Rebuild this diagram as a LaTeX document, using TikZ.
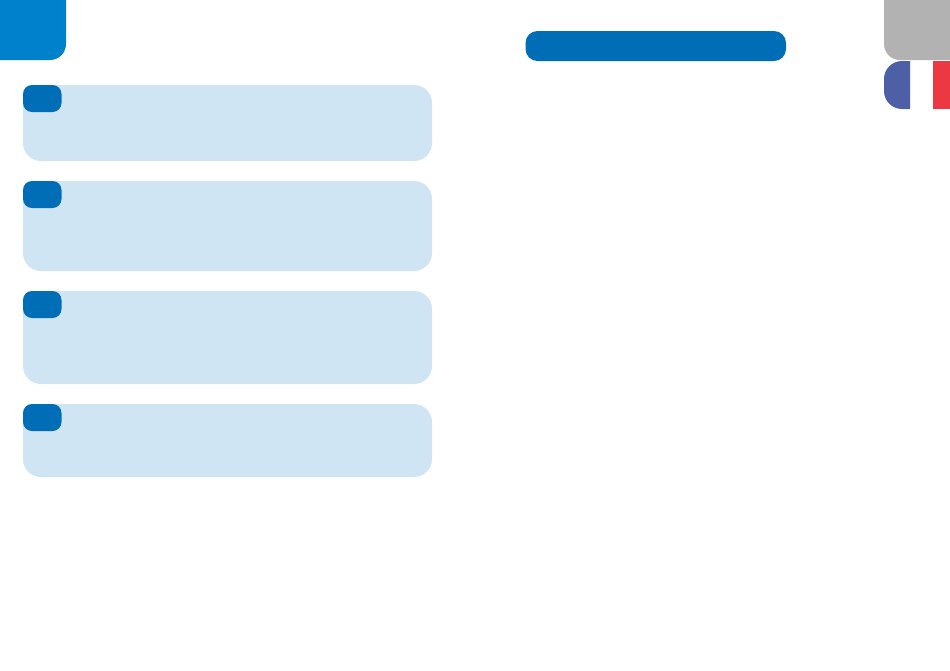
\documentclass[tikz,border=0pt]{standalone}

\definecolor{tabblue}{HTML}{0081CC}
\definecolor{badgeblue}{HTML}{006DB7}
\definecolor{panelblue}{HTML}{D0E5F4}
\definecolor{tabgray}{HTML}{B2B2B2}
\definecolor{flagblue}{HTML}{4D60A5}
\definecolor{flagred}{HTML}{EB3842}

\tikzset{
  panel/.style={fill=panelblue,rounded corners=18pt},
  badge/.style={fill=badgeblue,rounded corners=9pt}
}

\begin{document}
\begin{tikzpicture}[x=1pt,y=-1pt]
   \useasboundingbox [fill=white] (0,0) rectangle (950,670);

   % Corner tabs
   \fill [tabblue] (0,0) -- (66,0) [rounded corners=16pt] -- (66,60) [sharp corners] -- (0,60) -- cycle;
   \fill [tabgray] (950,0) -- (884,0) [rounded corners=16pt] -- (884,60) [sharp corners] -- (950,60) -- cycle;

   % Flag
   \fill [flagblue] (910,61) [rounded corners=18pt] -- (884,61) -- (884,109) [sharp corners] -- (910,109) -- cycle;
   \fill [flagred] (933,61) rectangle (950,109);

   % Title bar
   \fill [badgeblue, rounded corners=12pt] (525.5,31) rectangle (786,61);

   % Panels with their badges
   \foreach \ytop/\ybot in {85/161, 181/271, 291/384, 404/477} {
     \fill [panel] (23,\ytop) rectangle (432,\ybot);
     \fill [badge] (23,\ytop) rectangle (61.5,\ytop+27);
   }
\end{tikzpicture}
\end{document}
